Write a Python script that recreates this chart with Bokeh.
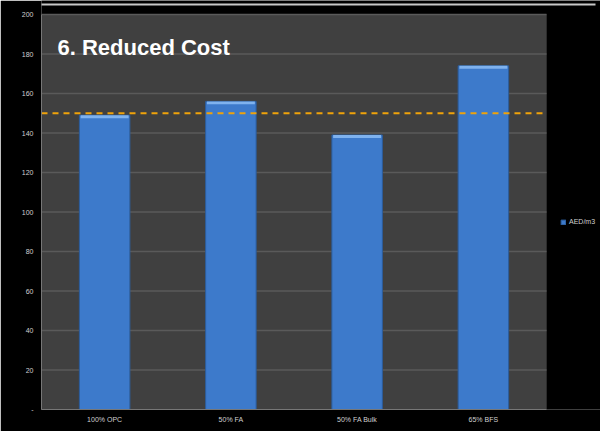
from bokeh.plotting import figure
from bokeh.models import (Range1d, FixedTicker, Label, Legend, LegendItem,
                          ColumnDataSource, BoxAnnotation)
from bokeh.embed import file_html
from bokeh.resources import INLINE

categories = ["100% OPC", "50% FA", "50% FA Bulk", "65% BFS"]
values = [149, 156, 139, 174]
reference_level = 150
y_ticks = [0, 20, 40, 60, 80, 100, 120, 140, 160, 180, 200]
series_name = "AED/m3"

n = len(categories)
xpos = [i + 0.5 for i in range(n)]
src = ColumnDataSource(dict(x=xpos, val=values, capb=[v - 1.5 for v in values]))

# layout: plot area 505 x 395 px, frame extended to the right edge and top for the legend
px_x = 505 / n
px_y = 395 / 200
y_end = 409 / px_y
x_end = 559 / px_x

p = figure(frame_width=559, frame_height=409, x_range=Range1d(0, x_end),
           y_range=Range1d(0, y_end), output_backend="svg", toolbar_location=None,
           background_fill_color="#000000", border_fill_color="#000000",
           min_border_left=41, min_border_right=0, min_border_top=0, min_border_bottom=22)
p.outline_line_color = None

p.add_layout(BoxAnnotation(left=0, right=n, bottom=0, top=max(y_ticks), fill_color="#404040",
                           fill_alpha=1, line_color="#4a4a4a", line_width=1, level="image"))

# gridlines limited to the plot area
grid_y = [t for t in y_ticks if t > 0]
p.segment(x0=[0] * len(grid_y), x1=[n] * len(grid_y), y0=grid_y, y1=grid_y,
          line_color="#5a5a5a", line_width=1.5, level="underlay")

r = p.vbar(x="x", top="val", width=0.4, source=src, fill_color="#3d7acb",
           line_color="#2c5d9c", line_width=1)
caps = p.vbar(x="x", top="val", bottom="capb", width=0.38, source=src,
              fill_color="#7fb2ee", line_color=None)

p.segment(x0=[0], x1=[n], y0=[reference_level], y1=[reference_level],
          line_color="#f0a30a", line_width=2, line_dash="6 5")

p.xgrid.grid_line_color = None
p.ygrid.grid_line_color = None

p.yaxis.ticker = FixedTicker(ticks=y_ticks)
p.yaxis.major_label_overrides = {0: "-"}
p.yaxis.bounds = (0, max(y_ticks))
p.xaxis.ticker = FixedTicker(ticks=xpos)
p.xaxis.major_label_overrides = {x: c for x, c in zip(xpos, categories)}
p.xaxis.bounds = (0, n)
for ax in (p.xaxis[0], p.yaxis[0]):
    ax.axis_line_color = "#777777"
    ax.major_tick_line_color = None
    ax.major_tick_out = 0
    ax.major_tick_in = 0
    ax.minor_tick_line_color = None
    ax.major_label_text_color = "#d0d0d0"
    ax.major_label_text_font = "Liberation Sans"
    ax.major_label_text_font_size = "7px"
p.yaxis.major_label_standoff = 8
p.xaxis.major_label_standoff = 6

p.add_layout(BoxAnnotation(left=-1, right=554 / px_x, top=y_end - 3 / px_y,
                           bottom=y_end - 5 / px_y, fill_color="#c8c8c8", fill_alpha=1,
                           line_color=None))

p.add_layout(Label(x=16, y=350, x_units="screen", y_units="screen",
                   text="6. Reduced Cost", text_color="#ffffff", text_font="Liberation Sans",
                   text_font_style="bold", text_font_size="22px"))

legend = Legend(items=[LegendItem(label=series_name, renderers=[r])],
                location=(519, 184), orientation="vertical",
                background_fill_alpha=0, border_line_color=None,
                label_text_color="#d0d0d0", label_text_font="Liberation Sans",
                label_text_font_size="7px", glyph_width=6, glyph_height=6,
                label_standoff=3, padding=0, margin=0)
p.add_layout(legend, "center")

open("out.html", "w").write(file_html(p, INLINE))
